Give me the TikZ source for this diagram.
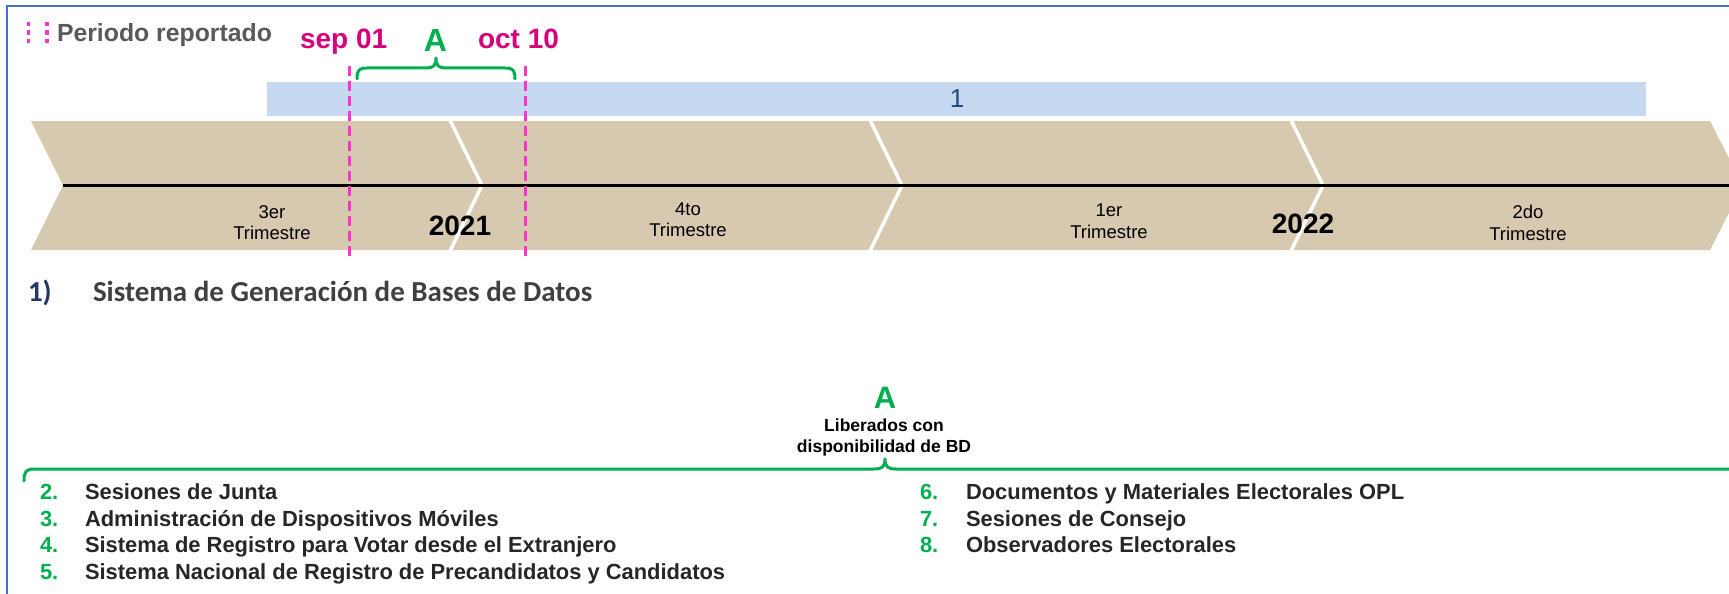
\documentclass[tikz,border=0pt]{standalone}
\usepackage{fontspec}
\setmainfont{Liberation Sans}
\newfontfamily\calib{Carlito}
\definecolor{bandc}{HTML}{D7C8B0}
\definecolor{barc}{HTML}{C6D9F0}
\definecolor{barlab}{HTML}{1F497D}
\definecolor{framec}{HTML}{4472C4}
\definecolor{pinkl}{HTML}{FF33CC}
\definecolor{magt}{HTML}{D6007A}
\definecolor{grn}{HTML}{00B050}
\definecolor{greyt}{HTML}{595959}
\definecolor{navy}{HTML}{1F3864}
\definecolor{dkt}{HTML}{404040}
\definecolor{listt}{HTML}{262626}
\tikzset{
  qlab/.style={align=center, font=\fontsize{18.5}{21.5}\selectfont},
  year/.style={font=\fontsize{28}{28}\selectfont\bfseries},
  num/.style={anchor=base west, text=grn, font=\fontsize{21.9}{21.9}\selectfont\bfseries},
  item/.style={anchor=base west, text=listt, font=\fontsize{21.9}{21.9}\selectfont\bfseries},
  pdash/.style={pinkl, line width=3pt, dash pattern=on 10pt off 5pt},
  brace/.style={grn, line width=3pt, line cap=round, line join=round},
  sepline/.style={white, line width=3.5pt}
}
\begin{document}
\begin{tikzpicture}[x=1pt,y=-1pt, every node/.style={inner sep=0pt, outer sep=0pt}]
\useasboundingbox (0,0) rectangle (1729,594);
\clip (0,0) rectangle (1729,594);
% frame
\draw[framec, line width=2pt] (7,700) -- (7,6) -- (1800,6);
% legend
\draw[pinkl, line width=3.5pt, dash pattern=on 4.5pt off 4pt] (28.5,22) -- (28.5,44);
\draw[pinkl, line width=3.5pt, dash pattern=on 4.5pt off 4pt] (47,22) -- (47,44);
\node[anchor=base west, text=greyt, font=\fontsize{24.8}{24.8}\selectfont\bfseries] (per) at (57,41.7) {Periodo reportado};
\node[anchor=base west, text=magt, font=\fontsize{28}{28}\selectfont\bfseries] (sep) at (300,48.3) {sep 01};
\node[anchor=base, text=grn, font=\fontsize{32}{32}\selectfont\bfseries] (Atop) at (435.5,51.7) {A};
\node[anchor=base west, text=magt, font=\fontsize{28}{28}\selectfont\bfseries] (oct) at (478,48.3) {oct 10};
% top brace
\draw[brace] (357,79) .. controls (357,70) and (359,68) .. (367,68) -- (426,68) .. controls (433,68) and (436,66) .. (436,58) .. controls (436,66) and (439,68) .. (446,68) -- (505,68) .. controls (513,68) and (515,70) .. (515,79);
% blue bar
\fill[barc] (267,82) rectangle (1646,116);
\node[text=barlab, font=\fontsize{26}{26}\selectfont] (one) at (957,99) {1};
% band
\fill[bandc] (31,121) -- (1710,121) -- (1743,185.5) -- (1710,250) -- (31,250) -- (63,185.5) -- cycle;
\foreach \sx in {449,869,1290}{
  \draw[sepline] (\sx,118) -- (\sx+33,185.5) -- (\sx,253);
}
\draw[black, line width=2.5pt] (63,185.5) -- (1760,185.5);
\node[qlab] (q3) at (272,222.5) {3er\\Trimestre};
\node[qlab] (q4) at (688,219.5) {4to\\Trimestre};
\node[qlab] (q1) at (1109,221) {1er\\Trimestre};
\node[qlab] (q2) at (1528,223) {2do\\Trimestre};
\node[year] (y1) at (460,226) {2021};
\node[year] (y2) at (1303,224) {2022};
% dashed period lines
\draw[pdash] (349,66) -- (349,258);
\draw[pdash] (525.5,66) -- (525.5,258);
% title
\node[anchor=base west, text=navy, font=\calib\fontsize{29}{29}\selectfont\bfseries] (n1) at (28,301) {1)};
\node[anchor=base west, text=dkt, font=\calib\fontsize{29}{29}\selectfont\bfseries] (t1) at (93,301) {Sistema de Generación de Bases de Datos};
% bottom brace
\node[anchor=base, text=grn, font=\fontsize{31}{31}\selectfont\bfseries] (Abot) at (885,408) {A};
\node[align=center, font=\fontsize{17.5}{21}\selectfont\bfseries] (lib) at (884,437.5) {Liberados con\\disponibilidad de BD};
\draw[brace] (24,481) .. controls (24,472) and (26,469) .. (34,469) -- (874,469) .. controls (882,469) and (885,467) .. (885,459) .. controls (885,467) and (888,469) .. (896,469) -- (1760,469);
% list
\node[num] (i2) at (40,499.5) {2.};
\node[item] (s2) at (85,499.5) {Sesiones de Junta};
\node[num] (i3) at (40,526) {3.};
\node[item] (s3) at (85,526) {Administración de Dispositivos Móviles};
\node[num] (i4) at (40,552.5) {4.};
\node[item] (s4) at (85,552.5) {Sistema de Registro para Votar desde el Extranjero};
\node[num] (i5) at (40,579) {5.};
\node[item] (s5) at (85,579) {Sistema Nacional de Registro de Precandidatos y Candidatos};
\node[num] (i6) at (920,499.5) {6.};
\node[item] (s6) at (966,499.5) {Documentos y Materiales Electorales OPL};
\node[num] (i7) at (920,526) {7.};
\node[item] (s7) at (966,526) {Sesiones de Consejo};
\node[num] (i8) at (920,552) {8.};
\node[item] (s8) at (966,552) {Observadores Electorales};
\end{tikzpicture}
\end{document}
